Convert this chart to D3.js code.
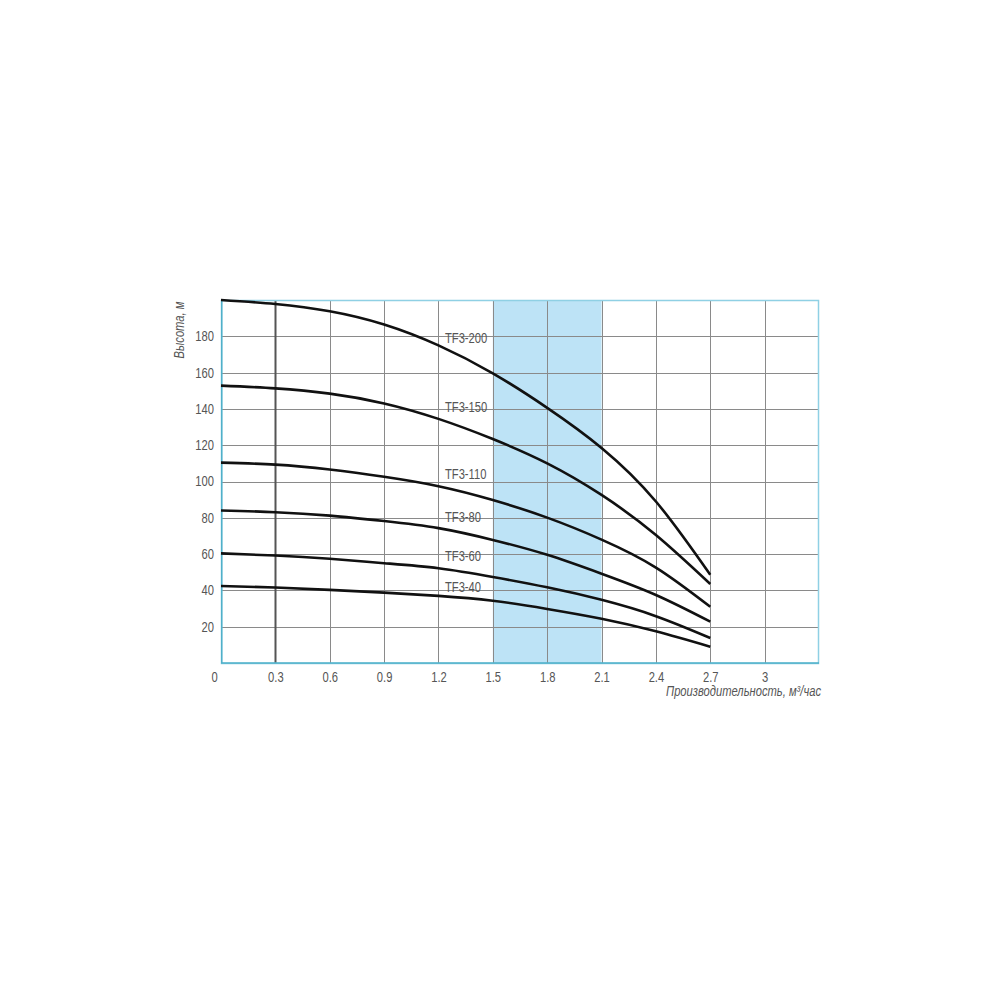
<!DOCTYPE html>
<html>
<head>
<meta charset="utf-8">
<script src="https://cdn.jsdelivr.net/npm/d3@7"></script>
<style>
    body { margin: 0; background: #fff; }
    .chart text { font-family: "Liberation Sans", Arial, sans-serif; fill: #555; }
</style>
</head>
<body>
<div class="chart"></div>
<script>
// flow, m3/h
var flow = [0, 0.3, 0.6, 0.9, 1.2, 1.5, 1.8, 2.1, 2.4, 2.7];

// head, m
var tf3_200 = [200, 197.8, 193.8, 186.5, 175, 159.6, 140.6, 118.5, 89, 48.6];
var tf3_150 = [152.8, 151.3, 148.4, 143, 134.5, 123.4, 110, 92.6, 70.5, 43.5];
var tf3_110 = [110.4, 109.3, 106.6, 102.6, 97.4, 89.8, 80.1, 68, 52.6, 31];
var tf3_80 = [84, 83.1, 81.2, 78.2, 74.3, 67.8, 59.6, 49.2, 37.5, 22.8];
var tf3_60 = [60.4, 59.2, 57.4, 55, 52.2, 47.4, 41.7, 34.8, 25.8, 13.8];
var tf3_40 = [42.4, 41.6, 40.3, 38.8, 37, 34.3, 29.8, 24.4, 17.5, 9];

var names = ["TF3-200", "TF3-150", "TF3-110", "TF3-80", "TF3-60", "TF3-40"];
var labelHead = [179, 141, 104, 80.5, 59, 42];   // where the name sits, in metres
var labelFlow = 1.236;

var xTicks = [0, 0.3, 0.6, 0.9, 1.2, 1.5, 1.8, 2.1, 2.4, 2.7, 3];
var yTicks = [20, 40, 60, 80, 100, 120, 140, 160, 180];
var band = [1.5, 2.1];   // recommended working range

var series = [tf3_200, tf3_150, tf3_110, tf3_80, tf3_60, tf3_40];

var narrow = "scale(0.8,1)";   // no condensed face installed, squeeze the sans

var dim = {
    width: 1000, height: 1000,
    margin: { top: 300, left: 221 },
    plot: { width: 598, height: 363 }
};

var x = d3.scaleLinear().domain([0, 3.3]).range([0, dim.plot.width]);
var y = d3.scaleLinear().domain([0, 200]).range([dim.plot.height, 0]);

var svg = d3.select(".chart").append("svg")
    .attr("width", dim.width)
    .attr("height", dim.height);

var g = svg.append("g")
    .attr("transform", "translate(" + dim.margin.left + "," + dim.margin.top + ")");

// blue band
g.append("rect")
    .attr("x", x(band[0]))
    .attr("y", 0)
    .attr("width", x(band[1]) - x(band[0]))
    .attr("height", dim.plot.height)
    .attr("fill", "#bde3f6");

// grid
g.selectAll("line.hgrid").data(yTicks).enter()
    .append("line")
    .attr("class", "hgrid")
    .attr("x1", 0).attr("x2", dim.plot.width)
    .attr("y1", function(d) { return Math.round(y(d)) + 0.5; })
    .attr("y2", function(d) { return Math.round(y(d)) + 0.5; })
    .attr("stroke", "#8a8a8a")
    .attr("stroke-width", 1);

g.selectAll("line.vgrid").data(xTicks.slice(1)).enter()
    .append("line")
    .attr("class", "vgrid")
    .attr("y1", 0).attr("y2", dim.plot.height)
    .attr("x1", function(d) { return Math.round(x(d)) + 0.5; })
    .attr("x2", function(d) { return Math.round(x(d)) + 0.5; })
    .attr("stroke", function(d) { return d === 0.3 ? "#555" : "#8a8a8a"; })
    .attr("stroke-width", function(d) { return d === 0.3 ? 2 : 1; });

// frame
g.append("rect")
    .attr("x", 0.5).attr("y", 0.5)
    .attr("width", dim.plot.width - 1)
    .attr("height", dim.plot.height)
    .attr("fill", "none")
    .attr("stroke", "#8fd0e4")
    .attr("stroke-width", 1.5);

g.append("path")
    .attr("d", "M0.75,0V" + dim.plot.height + "H" + dim.plot.width)
    .attr("fill", "none")
    .attr("stroke", "#4fb0c9")
    .attr("stroke-width", 1.5);

// curves
var line = d3.line()
    .x(function(d, i) { return x(flow[i]); })
    .y(function(d) { return y(d); })
    .curve(d3.curveNatural);

g.selectAll("path.curve").data(series).enter()
    .append("path")
    .attr("class", "curve")
    .attr("d", line)
    .attr("fill", "none")
    .attr("stroke", "#111")
    .attr("stroke-width", 2.6);

g.selectAll("text.name").data(names).enter()
    .append("text")
    .attr("class", "name")
    .attr("transform", function(d, i) {
        return "translate(" + x(labelFlow) + "," + y(labelHead[i]) + ") " + narrow;
    })
    .attr("dy", "0.35em")
    .style("font-size", "14px")
    .text(function(d) { return d; });

// axes
var yAxis = d3.axisLeft(y).tickValues(yTicks).tickSize(0).tickPadding(0);
var xAxis = d3.axisBottom(x).tickValues(xTicks).tickSize(0).tickPadding(9)
    .tickFormat(function(d) { return (d === 0 || d === 3) ? String(d) : d.toFixed(1); });

var ya = g.append("g").call(yAxis);
ya.select(".domain").remove();
ya.selectAll("text").style("font-size", "14px").attr("fill", null)
    .attr("x", null)
    .attr("transform", "translate(-7,0) " + narrow);

var xa = g.append("g")
    .attr("transform", "translate(0," + dim.plot.height + ")")
    .call(xAxis);
xa.select(".domain").remove();
xa.selectAll("text").style("font-size", "14px").attr("fill", null)
    .attr("transform", function(d) { return "translate(" + (d === 0 ? -7 : 0) + ",0) " + narrow; });

// titles
g.append("text")
    .attr("transform", "translate(-37,30) rotate(-90) " + narrow)
    .style("text-anchor", "middle")
    .style("font-style", "italic")
    .style("font-size", "14px")
    .text("Высота, м");

g.append("text")
    .attr("transform", "translate(" + (dim.plot.width + 2) + "," + (dim.plot.height + 33) + ") " + narrow)
    .style("text-anchor", "end")
    .style("font-style", "italic")
    .style("font-size", "14px")
    .text("Производительность, м³/час");
</script>
</body>
</html>
